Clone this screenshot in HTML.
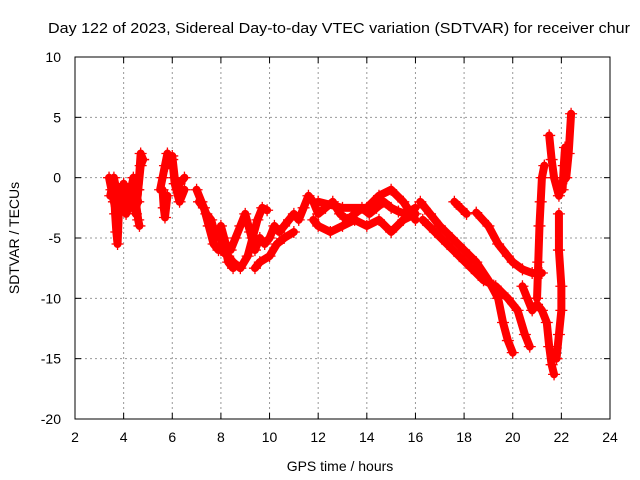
<!DOCTYPE html>
<html><head><meta charset="utf-8"><style>
body{margin:0;background:#fff;}
svg{display:block;font-family:"Liberation Sans",sans-serif;}
</style></head><body>
<svg id="chart" width="640" height="480">
<rect x="0" y="0" width="640" height="480" fill="#fff"/>
<text x="48" y="33" font-size="15" textLength="582" lengthAdjust="spacingAndGlyphs">Day 122 of 2023, Sidereal Day-to-day VTEC variation (SDTVAR) for receiver chur</text>
<text x="340" y="471" font-size="14" text-anchor="middle">GPS time / hours</text>
<text transform="translate(19,238) rotate(-90)" font-size="14" text-anchor="middle">SDTVAR / TECUs</text>
<g id="grid"></g><g id="series"></g>
<rect x="75" y="57" width="535" height="362" fill="none" stroke="#000" stroke-width="1"/>
</svg>
<script>
const xTicks=[2,4,6,8,10,12,14,16,18,20,22,24];
const yTicks=[-20,-15,-10,-5,0,5,10];
const t1x=[3.4,3.5,3.6,3.7,3.8,3.9,4.0,4.1,4.2,4.3,4.4,4.5,4.6,4.7,4.8];
const t1y=[0,-1,-2,-3,-1,-2.5,-1,-3,-2.5,-1,-2,-3,-1,1,1.5];
const t1cx=[3.45,3.6,3.8,4.0,4.2,4.4,4.6];
const t1cy=[-1.5,0,-2,-0.5,-1.5,-0.5,-2];
const t1bx=[3.6,3.65,3.7,3.75,3.8];
const t1by=[-1,-3,-4.5,-5.5,-3];
const t2x=[4.3,4.4,4.5,4.6,4.7,4.8];
const t2y=[-1,0,-3,-1,2,1.5];
const t2bx=[4.5,4.6,4.65];
const t2by=[-2,-3.5,-4];
const t3x=[5.5,5.6,5.7,5.8,5.9,6.0,6.1,6.2,6.3,6.5];
const t3y=[-1,0,1,2,1.5,1.8,0,-1,-0.5,0];
const t3cx=[5.8,6.0,6.1,6.3,6.5];
const t3cy=[1,1.5,-0.5,-2,-1];
const t3bx=[5.6,5.65,5.7,5.8];
const t3by=[-1,-2.5,-3.3,-1.5];
const t4x=[7.0,7.2,7.4,7.6,7.8,8.0,8.2,8.4,8.6,8.8,9.0,9.2,9.4,9.6,9.8,10.0,10.2,10.4,10.6,10.8,11.0,11.2,11.4,11.6,11.8,12.0,12.3,12.6,12.9,13.2,13.5,13.8,14.1,14.4,14.7,15.0,15.3,15.6,16.0];
const t4y=[-1,-2,-3,-3.5,-5,-4,-5.5,-6,-5,-4,-3,-4.5,-6,-5,-5.5,-5,-4,-4.5,-4,-3.5,-3,-3.5,-2.5,-1.5,-2,-3,-2.5,-2,-3,-3.5,-3,-2.5,-3,-2.5,-2,-2.5,-2.8,-3,-2.5];
const t4bx=[7.1,7.3,7.5,7.7,7.9,8.1,8.3,8.5];
const t4by=[-2,-2.5,-4,-5.5,-6,-5,-7,-7.5];
const t5x=[8.0,8.3,8.5,8.8,9.1,9.3,9.5,9.7,9.9];
const t5y=[-6,-6.5,-7,-7.5,-6.5,-5,-3.5,-2.5,-2.7];
const t6x=[9.4,9.6,10.0,10.3,10.6,11.0];
const t6y=[-7.5,-7,-6.5,-5.5,-5,-4.5];
const t7x=[11.8,12.0,12.5,13.0,13.5,14.0,14.5,15.0,15.5,16.0];
const t7y=[-3.5,-4,-4.5,-4,-3.5,-4,-3.5,-4.5,-3.5,-3];
const t8x=[12.0,13.0,14.0,14.5,15.0,15.5,16.0];
const t8y=[-2,-2.5,-2.5,-1.5,-1,-2,-3.5];
const tAx=[16.2,16.6,17.0,17.5,18.0,18.5,19.0,19.4,19.6,19.8,20.0];
const tAy=[-2,-3,-4,-5,-6,-7,-8.5,-10,-12,-13.5,-14.5];
const tBx=[16.3,16.8,17.3,17.8,18.3,18.8,19.3,19.8,20.2,20.5,20.7];
const tBy=[-3.5,-4.5,-5.5,-6.5,-7.5,-8.5,-9,-10,-11,-13,-14];
const tCx=[17.6,17.9,18.1];
const tCy=[-2,-2.6,-3];
const tDx=[18.5,19.0,19.4,19.8,20.0,20.4,20.8,21.2];
const tDy=[-2.9,-4,-5.5,-6.5,-7,-7.6,-7.9,-7.9];
const tFx=[20.4,20.6,20.8,21.0,21.2,21.4,21.5,21.6,21.7];
const tFy=[-9,-10,-11,-10.5,-11,-12,-14,-15.5,-16.3];
const tGx=[21.0,21.05,21.1,21.15,21.2,21.3];
const tGy=[-10,-7,-4,-2,0,1];
const tHx=[21.5,21.6,21.7,21.9,22.0,22.2,22.3,22.4];
const tHy=[3.5,1.5,0,-1.5,-0.5,0,2,5.3];
const tIx=[21.9,21.9,22.0,22.0,21.9,21.8];
const tIy=[-3,-6,-9,-11,-13,-15];
const tJx=[22.05,22.1,22.15];
const tJy=[-1,1,2.5];
const tracks=[[t1x,t1y],[t1cx,t1cy],[t1bx,t1by],[t2x,t2y],[t2bx,t2by],[t3x,t3y],[t3cx,t3cy],[t3bx,t3by],[t4x,t4y],[t4bx,t4by],[t5x,t5y],[t6x,t6y],[t7x,t7y],[t8x,t8y],[tAx,tAy],[tBx,tBy],[tCx,tCy],[tDx,tDy],[tFx,tFy],[tGx,tGy],[tHx,tHy],[tIx,tIy],[tJx,tJy]];
const NS="http://www.w3.org/2000/svg";
const X=v=>75+(v-2)*535/22;
const Y=v=>419-(v+20)*362/30;
const grid=document.getElementById('grid');
const series=document.getElementById('series');
function mk(tag,attrs,parent){const e=document.createElementNS(NS,tag);for(const k in attrs)e.setAttribute(k,attrs[k]);parent.appendChild(e);return e;}
xTicks.forEach(t=>{
  const x=X(t);
  if(t>2&&t<24){const g=mk('line',{x1:x,x2:x,y1:57,y2:419,stroke:'#999','stroke-dasharray':'2,3'},grid);
  
  }
  mk('line',{x1:x,x2:x,y1:419,y2:413,stroke:'#000'},grid);
  mk('line',{x1:x,x2:x,y1:57,y2:63,stroke:'#000'},grid);
  const l=mk('text',{x:x,y:442,'font-size':14,'text-anchor':'middle'},grid);l.textContent=t;
  
  
});
yTicks.forEach(t=>{
  const y=Y(t);
  if(t>-20&&t<10){const g=mk('line',{x1:75,x2:610,y1:y,y2:y,stroke:'#999','stroke-dasharray':'2,3'},grid);
  
  }
  mk('line',{x1:75,x2:81,y1:y,y2:y,stroke:'#000'},grid);
  mk('line',{x1:610,x2:604,y1:y,y2:y,stroke:'#000'},grid);
  const l=mk('text',{x:61,y:y+5,'font-size':14,'text-anchor':'end'},grid);l.textContent=t;
  
  
});
tracks.forEach(([xs,ys])=>{
  const pts=xs.map((v,i)=>X(v)+','+Y(ys[i])).join(' ');
  const pl=mk('polyline',{points:pts,fill:'none',stroke:'#f00','stroke-width':8,'stroke-linejoin':'round','stroke-linecap':'round'},series);
  
  
  xs.forEach((v,i)=>{
    const x=X(v),y=Y(ys[i]);
    const p=mk('path',{d:`M${x-6},${y}H${x+6}M${x},${y-6}V${y+6}`,stroke:'#f00','stroke-width':1.3},series);
    
    
  });
});
</script>
</body></html>
